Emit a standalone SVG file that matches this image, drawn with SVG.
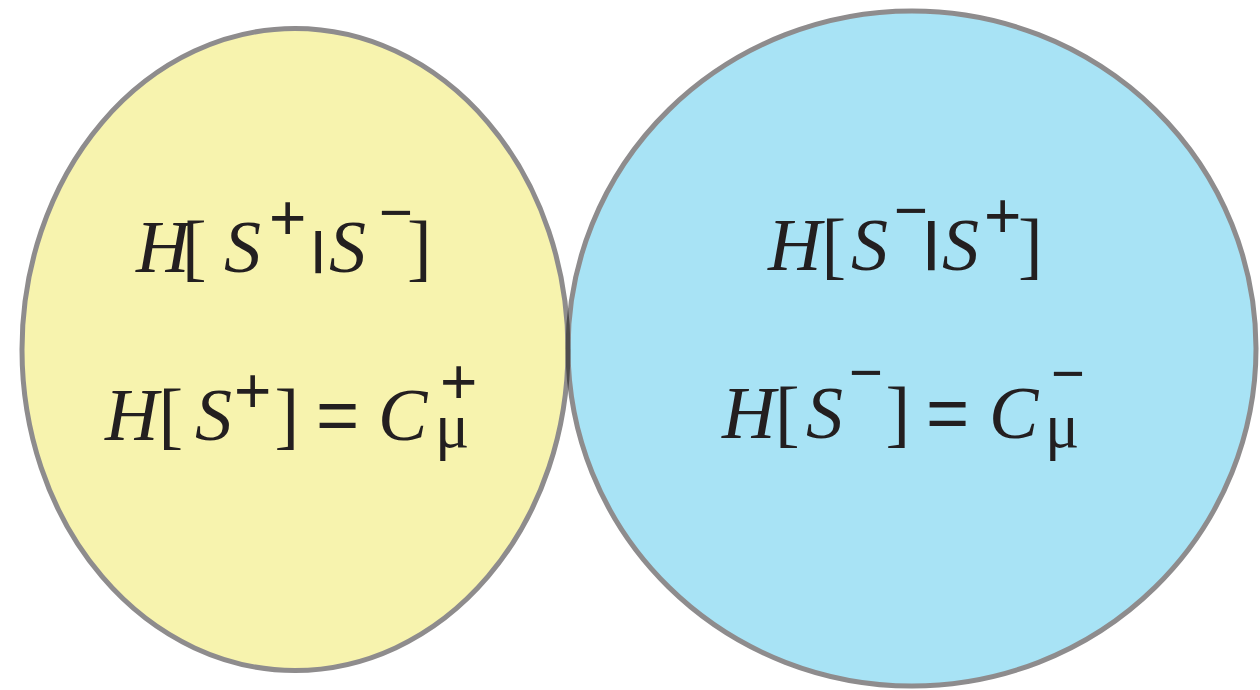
<svg xmlns="http://www.w3.org/2000/svg" width="1260" height="690" viewBox="0 0 1260 690">
<style>
.circ{stroke:#8e8c8d;stroke-width:5}
.mult{mix-blend-mode:multiply}
.it{font-family:"Liberation Serif",serif;font-style:italic;font-size:74px;fill:#231f20}
.up{font-family:"Liberation Serif",serif;font-size:74px;fill:#231f20}
.mu{font-family:"Liberation Serif",serif;font-size:64px;fill:#231f20}
.sg{font-family:"Liberation Sans",sans-serif;font-size:64px;fill:#231f20}
.mn{font-family:"Liberation Sans",sans-serif;font-size:58px;fill:#231f20}
.eq{font-family:"Liberation Sans",sans-serif;font-size:74px;fill:#231f20}
.bar{font-family:"Liberation Sans",sans-serif;font-weight:bold;fill:#231f20}
</style>
<rect width="1260" height="690" fill="#ffffff"/>
<g id="node-left">
<ellipse class="circ" cx="295" cy="349.5" rx="273" ry="321" fill="#f7f3ae"/>
<text class="it" x="136" y="272">H</text>
<text class="up" x="182" y="272">[</text>
<text class="it" x="224" y="272">S</text>
<text class="sg" x="269" y="239.5">+</text>
<text class="bar" x="312" y="263" font-size="44">|</text>
<text class="it" x="329" y="272">S</text>
<text class="mn" x="379" y="232">−</text>
<text class="up" x="407" y="272">]</text>
<text class="it" x="105" y="440">H</text>
<text class="up" x="158.5" y="440">[</text>
<text class="it" x="195" y="440">S</text>
<text class="sg" x="234" y="412.5">+</text>
<text class="up" x="274.5" y="440">]</text>
<text class="eq" x="316" y="440">=</text>
<text class="it" x="378" y="440">C</text>
<text class="sg" x="440" y="404">+</text>
<text class="mu" x="435" y="447">μ</text>
</g>
<g id="node-right">
<ellipse class="circ mult" cx="912" cy="348.5" rx="344" ry="337.5" fill="#a8e3f5"/>
<text class="it" x="768" y="270">H</text>
<text class="up" x="821.5" y="270">[</text>
<text class="it" x="851" y="270">S</text>
<text class="mn" x="894" y="230">−</text>
<text class="bar" x="924" y="259" font-size="52">|</text>
<text class="it" x="942" y="270">S</text>
<text class="sg" x="984" y="237.5">+</text>
<text class="up" x="1018" y="270">]</text>
<text class="it" x="722" y="438">H</text>
<text class="up" x="775" y="438">[</text>
<text class="it" x="806" y="438">S</text>
<text class="mn" x="849" y="392">−</text>
<text class="up" x="885.5" y="438">]</text>
<text class="eq" x="926" y="438">=</text>
<text class="it" x="989" y="438">C</text>
<text class="mn" x="1051" y="393">−</text>
<text class="mu" x="1045" y="447">μ</text>
</g>
<g id="connectors"></g>
</svg>
